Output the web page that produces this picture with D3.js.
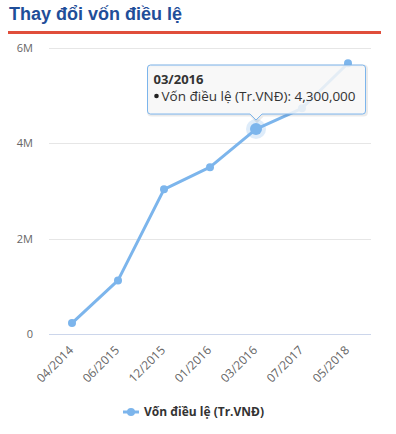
<!DOCTYPE html>
<html lang="vi">
<head>
<meta charset="utf-8">
<title>Thay đổi vốn điều lệ</title>
<script src="https://cdn.jsdelivr.net/npm/d3@7"></script>
<style>
  body { margin: 0; background: #fff; }
  svg { display: block; }
  .tick-y { font-family: "Open Sans", "Noto Sans", sans-serif; font-size: 11px; fill: #666; }
  .tick-x { font-family: "Open Sans", "Noto Sans", sans-serif; font-size: 12px; fill: #666; }
</style>
</head>
<body>
<div id="chart"></div>
<script>
// data
var categories = ["04/2014", "06/2015", "12/2015", "01/2016", "03/2016", "07/2017", "05/2018"];
var vonDieuLe = [230000, 1125000, 3035000, 3500000, 4300000, 4735000, 5680000];
var yTicks = [0, 2000000, 4000000, 6000000];
var yTickLabels = ["0", "2M", "4M", "6M"];
var seriesName = "Vốn điều lệ (Tr.VNĐ)";
var hoverIndex = 4;

var w = 396, h = 434;
var color = "#7cb5ec";

var svg = d3.select("#chart").append("svg")
  .attr("width", w)
  .attr("height", h);

// title
svg.append("text")
  .attr("x", 9)
  .attr("y", 20)
  .attr("font-family", "Liberation Sans, Arial, sans-serif")
  .attr("font-size", "18px")
  .attr("font-weight", "bold")
  .attr("fill", "#1f4e99")
  .text("Thay đổi vốn điều lệ");

svg.append("rect")
  .attr("x", 8)
  .attr("y", 31)
  .attr("width", 373)
  .attr("height", 3)
  .attr("fill", "#e04e3b");

// scales
var x = d3.scalePoint()
  .domain(categories)
  .range([49, 371])
  .padding(0.5);

var y = d3.scaleLinear()
  .domain([0, 6000000])
  .range([334, 48]);

// grid
svg.selectAll(".grid")
  .data(yTicks.slice(1))
  .enter()
  .append("line")
  .attr("class", "grid")
  .attr("x1", 49)
  .attr("x2", 371)
  .attr("y1", function(d) { return Math.round(y(d)) + 0.5; })
  .attr("y2", function(d) { return Math.round(y(d)) + 0.5; })
  .attr("stroke", "#e6e6e6")
  .attr("stroke-width", 1);

// x axis line
svg.append("line")
  .attr("x1", 49)
  .attr("x2", 371)
  .attr("y1", y(0) + 0.5)
  .attr("y2", y(0) + 0.5)
  .attr("stroke", "#ccd6eb");

// y labels
svg.selectAll(".tick-y")
  .data(yTicks)
  .enter()
  .append("text")
  .attr("class", "tick-y")
  .attr("x", 33)
  .attr("y", function(d) { return y(d) + 4; })
  .attr("text-anchor", "end")
  .text(function(d, i) { return yTickLabels[i]; });

// x labels
svg.selectAll(".tick-x")
  .data(categories)
  .enter()
  .append("text")
  .attr("class", "tick-x")
  .attr("text-anchor", "end")
  .attr("transform", function(d) { return "translate(" + (x(d) + 2) + "," + 351 + ") rotate(-45)"; })
  .text(function(d) { return d; });

// line
var line = d3.line()
  .x(function(d, i) { return x(categories[i]); })
  .y(function(d) { return y(d); });

svg.append("path")
  .datum(vonDieuLe)
  .attr("d", line)
  .attr("fill", "none")
  .attr("stroke", color)
  .attr("stroke-width", 3)
  .attr("stroke-linejoin", "round")
  .attr("stroke-linecap", "round");

// halo on hovered point
svg.append("circle")
  .attr("cx", x(categories[hoverIndex]))
  .attr("cy", y(vonDieuLe[hoverIndex]))
  .attr("r", 10)
  .attr("fill", color)
  .attr("opacity", 0.25);

svg.selectAll(".marker")
  .data(vonDieuLe)
  .enter()
  .append("circle")
  .attr("class", "marker")
  .attr("cx", function(d, i) { return x(categories[i]); })
  .attr("cy", function(d) { return y(d); })
  .attr("r", function(d, i) { return i == hoverIndex ? 6 : 4; })
  .attr("fill", color);

// tooltip
var tx = x(categories[hoverIndex]);
var ty = y(vonDieuLe[hoverIndex]) - 9;
var bw = 218, bh = 49;
var bx = Math.round(tx - bw / 2) + 0.5;
var by = ty - 6 - bh;
var r = 3;
var tipPath = "M" + (bx + r) + "," + by +
  "L" + (bx + bw - r) + "," + by +
  "Q" + (bx + bw) + "," + by + " " + (bx + bw) + "," + (by + r) +
  "L" + (bx + bw) + "," + (by + bh - r) +
  "Q" + (bx + bw) + "," + (by + bh) + " " + (bx + bw - r) + "," + (by + bh) +
  "L" + (tx + 6) + "," + (by + bh) +
  "L" + tx + "," + ty +
  "L" + (tx - 6) + "," + (by + bh) +
  "L" + (bx + r) + "," + (by + bh) +
  "Q" + bx + "," + (by + bh) + " " + bx + "," + (by + bh - r) +
  "L" + bx + "," + (by + r) +
  "Q" + bx + "," + by + " " + (bx + r) + "," + by + "Z";

svg.append("path")
  .attr("d", tipPath)
  .attr("transform", "translate(1,1)")
  .attr("fill", "none")
  .attr("stroke", "rgba(0,0,0,0.08)")
  .attr("stroke-width", 3);

svg.append("path")
  .attr("d", tipPath)
  .attr("fill", "rgba(247,247,247,0.85)")
  .attr("stroke", color)
  .attr("stroke-width", 1);

svg.append("text")
  .attr("x", bx + 6)
  .attr("y", by + 19)
  .attr("font-family", "Open Sans, Noto Sans, sans-serif")
  .attr("font-size", "13px")
  .attr("font-weight", "bold")
  .attr("fill", "#333")
  .text(categories[hoverIndex]);

svg.append("circle")
  .attr("cx", bx + 9)
  .attr("cy", by + 31)
  .attr("r", 2.3)
  .attr("fill", "#222");

svg.append("text")
  .attr("x", bx + 14)
  .attr("y", by + 35.5)
  .attr("font-family", "Open Sans, Noto Sans, sans-serif")
  .attr("font-size", "13.5px")
  .attr("fill", "#333")
  .text(seriesName + ": " + d3.format(",")(vonDieuLe[hoverIndex]));

// legend
svg.append("line")
  .attr("x1", 123)
  .attr("x2", 139)
  .attr("y1", 412)
  .attr("y2", 412)
  .attr("stroke", color)
  .attr("stroke-width", 3);

svg.append("circle")
  .attr("cx", 131)
  .attr("cy", 412)
  .attr("r", 4)
  .attr("fill", color);

svg.append("text")
  .attr("x", 144)
  .attr("y", 416)
  .attr("font-family", "Open Sans, Noto Sans, sans-serif")
  .attr("font-size", "12px")
  .attr("font-weight", "bold")
  .attr("fill", "#333")
  .text(seriesName);
</script>
</body>
</html>
